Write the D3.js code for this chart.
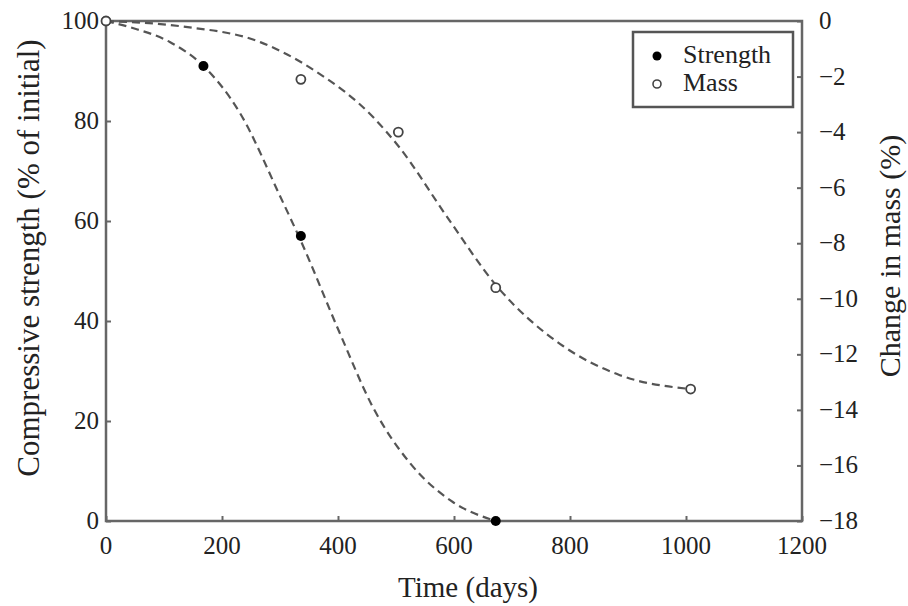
<!DOCTYPE html>
<html>
<head>
<meta charset="utf-8">
<script src="https://cdn.jsdelivr.net/npm/d3@7"></script>
<style>
  body { margin: 0; background: #fff; }
  text { font-family: "Liberation Serif", "DejaVu Serif", serif; fill: #222; }
</style>
</head>
<body>
<svg id="chart" width="908" height="606"></svg>
<script>
// measured points
var strengthDays = [0, 168, 336, 672];
var strengthVals = [100, 91, 57, 0];
var massDays = [0, 336, 504, 672, 1008];
var massVals = [0, -2.1, -4.0, -9.6, -13.25];

// dashed fit curves
var strengthFitDays = [0, 46, 110, 168, 231, 300, 336, 403, 460, 524, 598, 672];
var strengthFitVals = [100, 98.6, 95.8, 91, 81.6, 65, 56, 37.6, 22.8, 11.6, 3.8, 0];
var massFitDays = [0, 133, 266, 357, 460, 504, 588, 672, 788, 886, 1008];
var massFitVals = [0, -0.2, -0.76, -1.75, -3.45, -4.5, -7.05, -9.5, -11.7, -12.75, -13.25];

var xTicks = [0, 200, 400, 600, 800, 1000, 1200];
var yLeftTicks = [0, 20, 40, 60, 80, 100];
var yRightTicks = [0, -2, -4, -6, -8, -10, -12, -14, -16, -18];

var pL = 106, pR = 802, pT = 21, pB = 521;
var svg = d3.select('#chart');

var x = d3.scaleLinear().domain([0, 1200]).range([pL, pR]);
var yL = d3.scaleLinear().domain([0, 100]).range([pB, pT]);
var yR = d3.scaleLinear().domain([-18, 0]).range([pB, pT]);

var axisColor = '#666';

// axes
var gx = svg.append('g').attr('transform', 'translate(0,' + pB + ')')
    .call(d3.axisTop(x).tickValues(xTicks).tickSize(5).tickFormat(''));
var gl = svg.append('g').attr('transform', 'translate(' + pL + ',0)')
    .call(d3.axisRight(yL).tickValues(yLeftTicks).tickSize(5).tickFormat(''));
var gr = svg.append('g').attr('transform', 'translate(' + pR + ',0)')
    .call(d3.axisLeft(yR).tickValues(yRightTicks).tickSize(5).tickFormat(''));
[gx, gl, gr].forEach(function (g) {
    g.select('.domain').remove();
    g.selectAll('line').attr('stroke', axisColor).attr('stroke-width', 2);
});

svg.append('rect')
    .attr('x', pL).attr('y', pT)
    .attr('width', pR - pL).attr('height', pB - pT)
    .attr('fill', 'none').attr('stroke', axisColor).attr('stroke-width', 2.5);

// tick labels
svg.selectAll('.xl').data(xTicks).enter().append('text')
    .attr('x', d => x(d)).attr('y', pB + 33)
    .attr('text-anchor', 'middle').attr('font-size', 25)
    .text(d => d);
svg.selectAll('.yl').data(yLeftTicks).enter().append('text')
    .attr('x', pL - 7).attr('y', d => yL(d) + 8)
    .attr('text-anchor', 'end').attr('font-size', 25)
    .text(d => d);
svg.selectAll('.yr').data(yRightTicks).enter().append('text')
    .attr('x', pR + 17).attr('y', d => yR(d) + 8)
    .attr('text-anchor', 'start').attr('font-size', 25)
    .text(d => d < 0 ? '\u2212' + (-d) : d);

// titles
svg.append('text').attr('x', 468).attr('y', 597)
    .attr('text-anchor', 'middle').attr('font-size', 29).text('Time (days)');
svg.append('text').attr('transform', 'translate(39,258) rotate(-90)')
    .attr('text-anchor', 'middle').attr('font-size', 31)
    .text('Compressive strength (% of initial)');
svg.append('text').attr('transform', 'translate(900,256) rotate(-90)')
    .attr('text-anchor', 'middle').attr('font-size', 30)
    .text('Change in mass (%)');

// fit curves
var lineL = d3.line().x(d => x(d[0])).y(d => yL(d[1])).curve(d3.curveMonotoneX);
var lineR = d3.line().x(d => x(d[0])).y(d => yR(d[1])).curve(d3.curveMonotoneX);

svg.append('path')
    .attr('d', lineL(d3.zip(strengthFitDays, strengthFitVals)))
    .attr('fill', 'none').attr('stroke', '#555').attr('stroke-width', 2.2)
    .attr('stroke-dasharray', '8,5');
svg.append('path')
    .attr('d', lineR(d3.zip(massFitDays, massFitVals)))
    .attr('fill', 'none').attr('stroke', '#555').attr('stroke-width', 2.2)
    .attr('stroke-dasharray', '8,5');

// points
svg.selectAll('.sp').data(d3.zip(strengthDays, strengthVals)).enter().append('circle')
    .attr('cx', d => x(d[0])).attr('cy', d => yL(d[1])).attr('r', 5)
    .attr('fill', '#000');
svg.selectAll('.mp').data(d3.zip(massDays, massVals)).enter().append('circle')
    .attr('cx', d => x(d[0])).attr('cy', d => yR(d[1])).attr('r', 4.5)
    .attr('fill', '#fff').attr('stroke', '#444').attr('stroke-width', 1.8);

// legend
var lg = svg.append('g');
lg.append('rect').attr('x', 633).attr('y', 32).attr('width', 160).attr('height', 75)
    .attr('fill', '#fff').attr('stroke', '#555').attr('stroke-width', 2.5);
lg.append('circle').attr('cx', 657).attr('cy', 56).attr('r', 4.5).attr('fill', '#000');
lg.append('circle').attr('cx', 657).attr('cy', 84).attr('r', 4)
    .attr('fill', '#fff').attr('stroke', '#444').attr('stroke-width', 1.6);
lg.append('text').attr('x', 683).attr('y', 63).attr('font-size', 26).text('Strength');
lg.append('text').attr('x', 683).attr('y', 91).attr('font-size', 26).text('Mass');
</script>
</body>
</html>
